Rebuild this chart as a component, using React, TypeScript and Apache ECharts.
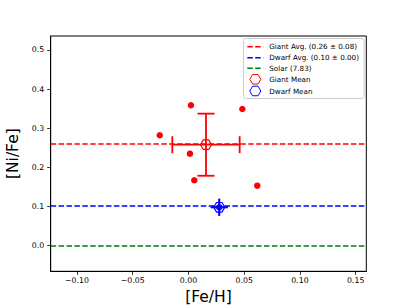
import React, { useEffect, useRef } from "react";
import * as echarts from "echarts";

const giantFeH = [0.0022, 0.0483, -0.0258, 0.0013, 0.0052, 0.0617];
const giantNiFe = [0.3584, 0.349, 0.2816, 0.2345, 0.1664, 0.1526];
const dwarfFeH = [0.0276];
const dwarfNiFe = [0.0973];
// mean: [x, y, xerr, yerr]
const giantMean = [0.0157, 0.2575, 0.0302, 0.0795];
const dwarfMean = [0.0276, 0.0973, 0.0, 0.0];
const giantAvg = 0.2575;
const dwarfAvg = 0.0973;
const solarLine = 0.0;
const xTicks = [-0.1, -0.05, 0.0, 0.05, 0.1, 0.15];
const yTicks = [0.0, 0.1, 0.2, 0.3, 0.4, 0.5];
const legendLabels = [
  "Giant Avg. (0.26 \u00b1 0.08)",
  "Dwarf Avg. (0.10 \u00b1 0.00)",
  "Solar (7.83)",
  "Giant Mean",
  "Dwarf Mean",
];

const FONT = '"DejaVu Sans", sans-serif';
const HEX = "path://M2,0 L1,1.732 L-1,1.732 L-2,0 L-1,-1.732 L1,-1.732 Z";

function hexPoints(cx: number, cy: number, r: number) {
  const pts: number[][] = [];
  for (let i = 0; i < 6; i++) {
    const a = (Math.PI / 3) * i;
    pts.push([cx + r * Math.cos(a), cy + r * Math.sin(a)]);
  }
  return pts;
}

function errBar(color: string) {
  return (params: any, api: any) => {
    const x = api.value(0), y = api.value(1), xe = api.value(2), ye = api.value(3);
    const l = api.coord([x - xe, y]);
    const r = api.coord([x + xe, y]);
    const t = api.coord([x, y + ye]);
    const b = api.coord([x, y - ye]);
    const cap = 8.5;
    const st = { stroke: color, lineWidth: 1.8 };
    const ln = (x1: number, y1: number, x2: number, y2: number) => ({
      type: "line",
      shape: { x1, y1, x2, y2 },
      style: st,
    });
    return {
      type: "group",
      children: [
        ln(l[0], l[1], r[0], r[1]),
        ln(t[0], t[1], b[0], b[1]),
        ln(l[0], l[1] - cap, l[0], l[1] + cap),
        ln(r[0], r[1] - cap, r[0], r[1] + cap),
        ln(t[0] - cap, t[1], t[0] + cap, t[1]),
        ln(b[0] - cap, b[1], b[0] + cap, b[1]),
      ],
    };
  };
}

export default function App() {
  const ref = useRef<HTMLDivElement>(null);
  useEffect(() => {
    if (!ref.current) return;
    const chart = echarts.init(ref.current, null, { renderer: "svg" });
    const dash = [5.5, 2.4];
    const lx = 247.3, tx = 269.3, rows = [46.7, 57.7, 68.3, 79.3, 91];
    const lineColors = ["#ff0000", "#0000ff", "#008000"];
    const legendGraphics: any[] = [
      {
        type: "rect",
        shape: { x: 243.5, y: 38.5, width: 120.5, height: 60, r: 2 },
        style: { fill: "rgba(255,255,255,0.8)", stroke: "#cccccc", lineWidth: 1 },
        z: 100,
      },
    ];
    for (let i = 0; i < 3; i++) {
      legendGraphics.push({
        type: "line",
        shape: { x1: lx, y1: rows[i], x2: lx + 16, y2: rows[i] },
        style: { stroke: lineColors[i], lineWidth: 1.5, lineDash: dash },
        z: 101,
      });
    }
    legendGraphics.push({
      type: "polygon",
      shape: { points: hexPoints(lx + 8, rows[3], 5.5) },
      style: { fill: "none", stroke: "#ff0000", lineWidth: 1 },
      z: 101,
    });
    legendGraphics.push({
      type: "polygon",
      shape: { points: hexPoints(lx + 8, rows[4], 5.5) },
      style: { fill: "none", stroke: "#0000ff", lineWidth: 1 },
      z: 101,
    });
    legendLabels.forEach((t, i) => {
      legendGraphics.push({
        type: "text",
        x: tx,
        y: rows[i],
        style: {
          text: t,
          fill: "#000",
          font: `7.2px ${FONT}`,
          verticalAlign: "middle",
          align: "left",
        },
        z: 101,
      });
    });

    const axisCommon = {
      type: "value",
      splitLine: { show: false },
      axisLine: { show: true, onZero: false, lineStyle: { color: "#000", width: 1 } },
      axisTick: { show: true, length: 3.5, inside: false, lineStyle: { color: "#000", width: 0.8 } },
      nameTextStyle: { fontFamily: FONT, fontSize: 15.5, color: "#000" },
    };

    const mlLine = (v: number, color: string) => ({
      type: "line",
      data: [],
      markLine: {
        silent: true,
        symbol: "none",
        label: { show: false },
        lineStyle: { color, type: dash, width: 1.5 },
        data: [{ yAxis: v }],
      },
    });

    chart.setOption({
      animation: false,
      grid: {
        left: 50.7,
        right: 40.7,
        top: 36,
        bottom: 33.7,
        containLabel: false,
        outerBoundsMode: "none",
        show: true,
        borderColor: "#000",
        borderWidth: 1,
        backgroundColor: "transparent",
      },
      xAxis: {
        ...axisCommon,
        min: -0.1236,
        max: 0.1595,
        name: "[Fe/H]",
        nameLocation: "middle",
        nameGap: 13,
        axisTick: { ...axisCommon.axisTick, customValues: xTicks },
        axisLabel: {
          customValues: xTicks,
          fontFamily: FONT,
          fontSize: 7.8,
          color: "#000",
          margin: 5,
          formatter: (v: number) => (v < 0 ? "\u2212" : "") + Math.abs(v).toFixed(2),
        },
      },
      yAxis: {
        ...axisCommon,
        min: -0.0666,
        max: 0.5358,
        name: "[Ni/Fe]",
        nameLocation: "middle",
        nameGap: 23,
        axisTick: { ...axisCommon.axisTick, customValues: yTicks },
        axisLabel: {
          customValues: yTicks,
          fontFamily: FONT,
          fontSize: 7.8,
          color: "#000",
          margin: 6.5,
          formatter: (v: number) => v.toFixed(1),
        },
      },
      graphic: legendGraphics,
      series: [
        mlLine(giantAvg, "#ff0000"),
        mlLine(dwarfAvg, "#0000ff"),
        mlLine(solarLine, "#008000"),
        {
          type: "scatter",
          data: giantFeH.map((x, i) => [x, giantNiFe[i]]),
          symbolSize: 6.5,
          itemStyle: { color: "#ff0000", opacity: 1 },
          z: 5,
        },
        {
          type: "scatter",
          data: dwarfFeH.map((x, i) => [x, dwarfNiFe[i]]),
          symbolSize: 6.5,
          itemStyle: { color: "#0000ff", opacity: 1 },
          z: 5,
        },
        {
          type: "custom",
          renderItem: errBar("#ff0000"),
          data: [giantMean],
          encode: { x: 0, y: 1 },
          z: 6,
        },
        {
          type: "custom",
          renderItem: errBar("#0000ff"),
          data: [dwarfMean],
          encode: { x: 0, y: 1 },
          z: 6,
        },
        {
          type: "scatter",
          data: [[giantMean[0], giantMean[1]]],
          symbol: HEX,
          symbolKeepAspect: true,
          symbolSize: 11,
          itemStyle: { color: "none", borderColor: "#ff0000", borderWidth: 1.2, opacity: 1 },
          z: 7,
        },
        {
          type: "scatter",
          data: [[dwarfMean[0], dwarfMean[1]]],
          symbol: HEX,
          symbolKeepAspect: true,
          symbolSize: 11,
          itemStyle: { color: "none", borderColor: "#0000ff", borderWidth: 1.2, opacity: 1 },
          z: 7,
        },
      ],
    });
    return () => chart.dispose();
  }, []);
  return <div ref={ref} style={{ width: 407, height: 305, position: "absolute", left: 0, top: 0 }} />;
}
